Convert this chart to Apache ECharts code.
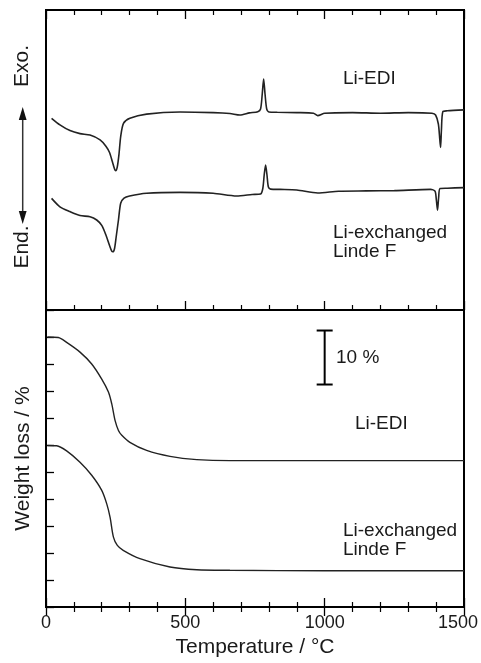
<!DOCTYPE html>
<html>
<head>
<meta charset="utf-8">
<script src="https://cdn.jsdelivr.net/npm/echarts@6/dist/echarts.min.js"></script>
<style>
html,body{margin:0;padding:0;background:#fff;}
#chart{width:481px;height:663px;}
</style>
</head>
<body>
<div id="chart"></div>
<script>
// ---- DTA (top panel, arbitrary units) ----
const dtaTempEDI = [20, 50, 86, 122, 158, 194, 215, 228, 238, 246, 250, 256, 262, 268, 278, 301, 361, 481, 600, 660, 696, 730, 760, 770, 776, 781, 786, 792, 800, 830, 900, 960, 975, 1000, 1100, 1200, 1300, 1385, 1398, 1408, 1413, 1416, 1419, 1424, 1440, 1500];
const dtaValEDI  = [63.9, 61.7, 59.8, 58.8, 58.3, 56.7, 54.6, 52.5, 49.5, 47.0, 46.4, 47.8, 52.0, 57.8, 62.2, 63.9, 65.3, 66.0, 65.8, 65.5, 65.0, 65.7, 66.1, 67.0, 72.0, 77.0, 72.0, 67.0, 66.0, 65.9, 65.8, 65.6, 64.8, 65.6, 65.8, 65.6, 65.8, 65.6, 65.0, 62.0, 57.0, 54.2, 60.0, 66.1, 66.4, 66.7];
const dtaTempLF  = [20, 50, 86, 122, 158, 182, 200, 215, 228, 236, 240, 246, 252, 260, 268, 280, 300, 361, 481, 600, 684, 740, 770, 778, 783, 788, 793, 798, 806, 840, 900, 975, 1050, 1150, 1250, 1380, 1396, 1401, 1405, 1409, 1414, 1440, 1500];
const dtaValLF   = [37.2, 34.4, 32.8, 31.5, 31.1, 30.0, 28.2, 25.0, 21.5, 19.6, 19.4, 20.5, 24.5, 30.0, 35.6, 37.3, 38.0, 38.9, 39.2, 38.9, 38.0, 38.5, 38.7, 40.5, 45.0, 48.3, 45.0, 41.0, 40.3, 40.2, 40.0, 39.0, 39.6, 39.7, 39.8, 40.2, 39.6, 36.5, 33.3, 37.5, 40.5, 40.6, 40.8];

// ---- TG (bottom panel, %, curves offset) ----
const tgTempEDI = [5, 44, 74, 122, 164, 200, 224, 236, 248, 260, 272, 301, 361, 445, 541, 660, 900, 1200, 1500];
const tgValEDI  = [50.0, 49.9, 49.0, 47.2, 45.0, 42.2, 39.8, 37.6, 34.5, 32.7, 31.8, 30.5, 29.0, 27.9, 27.3, 27.1, 27.1, 27.1, 27.1];
const tgTempLF  = [5, 38, 74, 122, 164, 200, 218, 230, 242, 256, 277, 337, 445, 541, 660, 1000, 1500];
const tgValLF   = [29.9, 29.85, 28.9, 26.8, 24.4, 21.6, 19.1, 16.6, 12.95, 11.4, 10.5, 8.95, 7.4, 6.9, 6.8, 6.7, 6.7];

// scale bar (10 %)
const scaleBarTemp = [1000];
const scaleBarRange = [41.2, 51.2];

const xTicks = [0, 500, 1000, 1500];

const FONT = "'Liberation Sans', Arial, Helvetica, sans-serif";
const INK = '#1a1a1a';

function zip(a, b) { return a.map((v, i) => [v, b[i]]); }

const chart = echarts.init(document.getElementById('chart'), null, {renderer: 'canvas'});

function xAx(gridIndex, position, showLabel) {
  return {
    type: 'value', gridIndex, position,
    min: xTicks[0], max: xTicks[xTicks.length - 1], interval: 500,
    axisLine: {show: false},
    axisTick: {show: true, inside: true, length: 9, lineStyle: {color: '#000', width: 1.3}},
    minorTick: {show: true, splitNumber: 5, length: 5, lineStyle: {color: '#000', width: 1.2}},
    splitLine: {show: false},
    minorSplitLine: {show: false},
    axisLabel: {show: showLabel, color: INK, fontSize: 18, fontFamily: FONT, margin: 7,
                formatter: function (v) {
                  return v === xTicks[xTicks.length - 1] ? '{r|' + v + '}' : String(v);
                },
                rich: {r: {color: INK, fontSize: 18, fontFamily: FONT, padding: [0, 12, 0, 0]}}},
    name: showLabel ? 'Temperature / °C' : '',
    nameLocation: 'middle', nameGap: 30,
    nameTextStyle: {color: INK, fontSize: 21, fontFamily: FONT}
  };
}

const option = {
  animation: false,
  backgroundColor: '#fff',
  grid: [
    {left: 46, top: 10, width: 418, height: 300, show: true, borderColor: '#000', borderWidth: 2, backgroundColor: 'transparent', outerBoundsMode: 'none'},
    {left: 46, top: 310, width: 418, height: 297, show: true, borderColor: '#000', borderWidth: 2, backgroundColor: 'transparent', outerBoundsMode: 'none'}
  ],
  xAxis: [
    xAx(0, 'bottom', false),
    xAx(0, 'top', false),
    xAx(1, 'top', false),
    xAx(1, 'bottom', true)
  ],
  yAxis: [
    {type: 'value', gridIndex: 0, min: 0, max: 100,
     axisLine: {show: false}, axisTick: {show: false}, axisLabel: {show: false}, splitLine: {show: false}},
    {type: 'value', gridIndex: 1, min: 0, max: 55, interval: 5,
     axisLine: {show: false},
     axisTick: {show: true, inside: true, length: 8, lineStyle: {color: '#000', width: 1.3}},
     axisLabel: {show: false}, splitLine: {show: false},
     name: 'Weight loss / %', nameLocation: 'middle', nameGap: 12,
     nameTextStyle: {color: INK, fontSize: 21, fontFamily: FONT}}
  ],
  series: [
    {type: 'line', xAxisIndex: 0, yAxisIndex: 0, data: zip(dtaTempEDI, dtaValEDI), showSymbol: false, smooth: 0.25,
     lineStyle: {color: '#222', width: 1.6}},
    {type: 'line', xAxisIndex: 0, yAxisIndex: 0, data: zip(dtaTempLF, dtaValLF), showSymbol: false, smooth: 0.25,
     lineStyle: {color: '#222', width: 1.6}},
    {type: 'line', xAxisIndex: 3, yAxisIndex: 1, data: zip(tgTempEDI, tgValEDI), showSymbol: false, smooth: 0.3,
     lineStyle: {color: '#222', width: 1.4}},
    {type: 'line', xAxisIndex: 3, yAxisIndex: 1, data: zip(tgTempLF, tgValLF), showSymbol: false, smooth: 0.3,
     lineStyle: {color: '#222', width: 1.4}},
    {type: 'custom', xAxisIndex: 3, yAxisIndex: 1,
     data: [[scaleBarTemp[0], scaleBarRange[0], scaleBarRange[1]]],
     renderItem: function (params, api) {
       const lo = api.coord([api.value(0), api.value(1)]);
       const hi = api.coord([api.value(0), api.value(2)]);
       const w = 8;
       const st = {stroke: '#000', lineWidth: 2};
       return {type: 'group', children: [
         {type: 'line', shape: {x1: lo[0], y1: lo[1], x2: hi[0], y2: hi[1]}, style: st},
         {type: 'line', shape: {x1: lo[0] - w, y1: lo[1], x2: lo[0] + w, y2: lo[1]}, style: st},
         {type: 'line', shape: {x1: hi[0] - w, y1: hi[1], x2: hi[0] + w, y2: hi[1]}, style: st}
       ]};
     }}
  ],
  graphic: [
    {type: 'text', x: 22, y: 66, rotation: Math.PI / 2, style: {text: 'Exo.', fill: INK, font: '21px ' + FONT, textAlign: 'center', textVerticalAlign: 'middle'}},
    {type: 'text', x: 22, y: 247, rotation: Math.PI / 2, style: {text: 'End.', fill: INK, font: '21px ' + FONT, textAlign: 'center', textVerticalAlign: 'middle'}},
    {type: 'line', shape: {x1: 22.7, y1: 116, x2: 22.7, y2: 215}, style: {stroke: '#333', lineWidth: 1.5}},
    {type: 'polygon', shape: {points: [[22.7, 107], [18.8, 120], [26.6, 120]]}, style: {fill: '#111'}},
    {type: 'polygon', shape: {points: [[22.7, 224], [18.8, 211], [26.6, 211]]}, style: {fill: '#111'}},
    {type: 'text', x: 343, y: 79, style: {text: 'Li-EDI', fill: INK, font: '19px ' + FONT, textAlign: 'left', textVerticalAlign: 'middle'}},
    {type: 'text', x: 333, y: 233, style: {text: 'Li-exchanged', fill: INK, font: '19px ' + FONT, textAlign: 'left', textVerticalAlign: 'middle'}},
    {type: 'text', x: 333, y: 252, style: {text: 'Linde F', fill: INK, font: '19px ' + FONT, textAlign: 'left', textVerticalAlign: 'middle'}},
    {type: 'text', x: 336, y: 358, style: {text: '10 %', fill: INK, font: '19px ' + FONT, textAlign: 'left', textVerticalAlign: 'middle'}},
    {type: 'text', x: 355, y: 424, style: {text: 'Li-EDI', fill: INK, font: '19px ' + FONT, textAlign: 'left', textVerticalAlign: 'middle'}},
    {type: 'text', x: 343, y: 531, style: {text: 'Li-exchanged', fill: INK, font: '19px ' + FONT, textAlign: 'left', textVerticalAlign: 'middle'}},
    {type: 'text', x: 343, y: 550, style: {text: 'Linde F', fill: INK, font: '19px ' + FONT, textAlign: 'left', textVerticalAlign: 'middle'}}
  ]
};
chart.setOption(option);
</script>
</body>
</html>
